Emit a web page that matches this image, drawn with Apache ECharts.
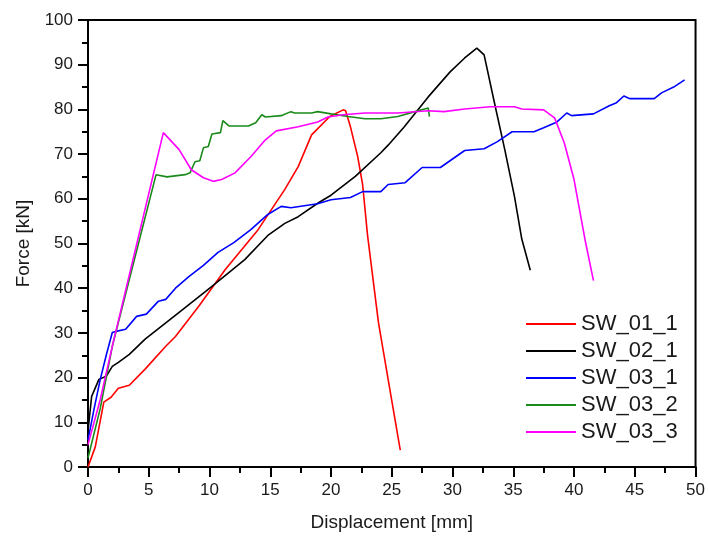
<!DOCTYPE html>
<html>
<head>
<meta charset="utf-8">
<script src="https://cdn.jsdelivr.net/npm/echarts@6/dist/echarts.min.js"></script>
<style>
  html, body { margin: 0; padding: 0; background: #fff; }
  #chart { width: 708px; height: 537px; }
</style>
</head>
<body>
<div id="chart"></div>
<script>
// [displacement mm, force kN]
const sw01_1 = [[0,0],[0.6,4.5],[1.3,14.5],[1.9,15.6],[2.5,17.6],[3.4,18.3],[4.7,21.9],[6.4,27],[7.2,29.2],[9.1,35.9],[11.3,44.2],[14,53.1],[16.2,62.1],[17.3,67.2],[18.4,74.3],[19.9,78.4],[21,79.9],[21.2,79.7],[21.6,76.1],[22.2,69.4],[22.6,63.2],[23,52],[23.9,32.4],[24.7,19.6],[25.7,3.8]]
const sw02_1 = [[0,8],[0.3,15.8],[0.9,19.6],[1.5,20.3],[2,22.5],[2.5,23.4],[3.4,25.2],[4.7,28.6],[7.5,34.6],[10.2,40.4],[12.9,46.4],[14.8,51.8],[16.2,54.5],[17.3,56],[18.9,59],[20,60.8],[22,65],[24.1,70.3],[24.7,72],[26,76],[28,82.8],[29.8,88.4],[31,91.5],[32,93.7],[32.6,92.2],[33.4,82.1],[34.3,71],[35.1,60.5],[35.7,51],[36.4,44]]
const sw03_1 = [[0,6],[0.5,13],[1,19.5],[1.5,25],[2,30.1],[2.4,30.4],[3.1,30.8],[4,33.7],[4.8,34.2],[5.8,37.1],[6.4,37.5],[7.2,40],[8.3,42.6],[9.5,45.1],[10.7,48],[12,50.2],[13.4,53.1],[14.8,56.5],[15.9,58.3],[16.7,58],[18.9,58.9],[20,59.8],[21.6,60.3],[22.6,61.6],[24.1,61.6],[24.7,63.2],[26.1,63.6],[27.5,67],[29,67],[31,70.8],[32.6,71.2],[33.7,72.8],[34.9,75],[36.7,75],[37.5,75.9],[38.6,77.2],[39.4,79.2],[39.8,78.6],[41.6,79],[42.9,80.8],[43.5,81.5],[44.1,83],[44.6,82.4],[46.6,82.4],[47.2,83.7],[48.2,85],[49.1,86.6]]
const sw03_2 = [[0,2],[1,13],[2,27],[5.6,65.4],[6.5,64.9],[8,65.4],[8.4,65.8],[8.8,68.3],[9.2,68.5],[9.5,71.4],[9.9,71.7],[10.2,74.5],[10.9,74.8],[11.1,77.5],[11.6,76.3],[13.2,76.3],[13.8,77],[14.3,78.8],[14.6,78.3],[15.9,78.6],[16.7,79.5],[17,79.2],[18.4,79.2],[18.9,79.5],[20,79],[21.4,78.4],[22.8,77.9],[24.1,77.9],[25.5,78.4],[26.9,79.5],[28,80.3],[28.1,78.4]]
const sw03_3 = [[0,5],[1,15],[2,27],[6.2,74.8],[7.5,71],[8.5,66.5],[9.5,64.7],[10.3,63.9],[11,64.3],[12.1,65.8],[13.4,69.4],[14.6,73.2],[15.5,75.2],[17.3,76.1],[18.9,77.2],[19.75,78.3],[21,78.8],[22.8,79.2],[25.5,79.2],[28,79.7],[29.3,79.5],[31,80.1],[33.1,80.6],[35.1,80.6],[35.7,80.1],[37.5,79.9],[38.4,78.1],[39.2,72.5],[40,64.3],[40.9,50.9],[41.6,41.7]]

const seriesNames = ['SW_01_1', 'SW_02_1', 'SW_03_1', 'SW_03_2', 'SW_03_3']
const seriesData = [sw01_1, sw02_1, sw03_1, sw03_2, sw03_3]
const seriesColors = ['#ff0000', '#000000', '#0000ff', '#1a8a1a', '#ff00ff']

const font = 'Liberation Sans, Arial, sans-serif'
const textColor = '#1a1a1a'

const chart = echarts.init(document.getElementById('chart'), null, { renderer: 'canvas' })

const axisCommon = {
  axisLine: { show: true, onZero: false, lineStyle: { color: '#000', width: 2 } },
  axisTick: { show: true, inside: false, length: 10, lineStyle: { color: '#000', width: 2 } },
  minorTick: { show: true, splitNumber: 2, length: 6, lineStyle: { color: '#000', width: 2 } },
  splitLine: { show: false },
  nameTextStyle: { fontFamily: font, fontSize: 19, color: textColor },
}

chart.setOption({
  animation: false,
  grid: { left: 88, right: 9, top: 20, bottom: 69, show: true, borderColor: '#000', borderWidth: 2 },
  legend: {
    orient: 'vertical',
    left: 521,
    top: 308,
    icon: 'rect',
    itemWidth: 50,
    itemHeight: 2,
    itemGap: 5,
    textStyle: { fontFamily: font, fontSize: 22, lineHeight: 22, color: textColor },
    data: seriesNames,
  },
  xAxis: {
    ...axisCommon,
    type: 'value',
    min: 0,
    max: 50,
    interval: 5,
    name: 'Displacement [mm]',
    nameLocation: 'middle',
    nameGap: 46,
    axisLabel: { fontFamily: font, fontSize: 17, color: textColor, margin: 15 },
  },
  yAxis: {
    ...axisCommon,
    type: 'value',
    min: 0,
    max: 100,
    interval: 10,
    name: 'Force [kN]',
    nameLocation: 'middle',
    nameGap: 55,
    axisLabel: { fontFamily: font, fontSize: 17, color: textColor, margin: 15 },
  },
  series: seriesNames.map((name, i) => ({
    name,
    type: 'line',
    data: seriesData[i],
    symbol: 'none',
    color: seriesColors[i],
    lineStyle: { width: 1.6 },
    emphasis: { disabled: true },
  })),
})
</script>
</body>
</html>
